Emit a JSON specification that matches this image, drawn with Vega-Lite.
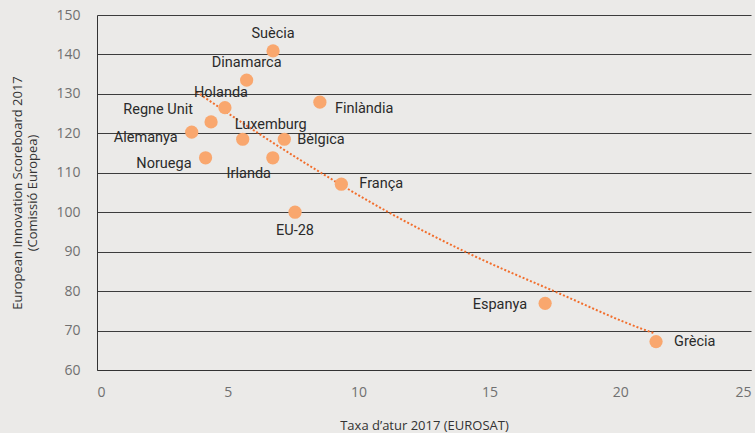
{
  "$schema": "https://vega.github.io/schema/vega-lite/v6.json",
  "width": 654,
  "height": 355,
  "autosize": {"type": "none"},
  "padding": {"left": 97, "top": 15, "right": 4, "bottom": 63},
  "background": "#EBEAE8",
  "config": {
    "view": {"stroke": null},
    "axis": {
      "labelFont": "Open Sans",
      "titleFont": "Open Sans",
      "labelFontSize": 14,
      "labelColor": "#707070",
      "titleFontSize": 13,
      "titleFontWeight": "normal",
      "titleColor": "#333333",
      "domainColor": "#333333",
      "domainWidth": 1,
      "ticks": false,
      "tickSize": 0
    },
    "text": {"font": "Roboto", "fontSize": 14.5, "fontWeight": "normal", "color": "#2a2a2a", "baseline": "middle"}
  },
  "datasets": {
    "paisos": [
      {"pais": "Suècia", "x": 6.73, "y": 140.9},
      {"pais": "Dinamarca", "x": 5.72, "y": 133.5},
      {"pais": "Holanda", "x": 4.89, "y": 126.5},
      {"pais": "Regne Unit", "x": 4.36, "y": 122.9},
      {"pais": "Alemanya", "x": 3.62, "y": 120.3},
      {"pais": "Luxemburg", "x": 5.57, "y": 118.5},
      {"pais": "Bèlgica", "x": 7.16, "y": 118.5},
      {"pais": "Noruega", "x": 4.15, "y": 113.8},
      {"pais": "Irlanda", "x": 6.72, "y": 113.8},
      {"pais": "Finlàndia", "x": 8.52, "y": 127.9},
      {"pais": "França", "x": 9.34, "y": 107.1},
      {"pais": "EU-28", "x": 7.57, "y": 100.0},
      {"pais": "Espanya", "x": 17.13, "y": 76.9},
      {"pais": "Grècia", "x": 21.37, "y": 67.2}
    ],
    "tendencia": [
      {"x": 3.8, "y": 130.5},
      {"x": 6.17, "y": 120.0},
      {"x": 8.91, "y": 108.6},
      {"x": 11.14, "y": 100.0},
      {"x": 14.07, "y": 90.0},
      {"x": 17.57, "y": 79.7},
      {"x": 21.01, "y": 70.0},
      {"x": 21.27, "y": 69.4}
    ]
  },
  "data": {"name": "paisos"},
  "encoding": {
    "x": {
      "field": "x",
      "type": "quantitative",
      "scale": {"domain": [0, 25], "nice": false},
      "axis": {
        "values": [0, 5, 10, 15, 20, 25],
        "grid": false,
        "labelPadding": 15,
        "title": "Taxa d’atur 2017 (EUROSAT)",
        "titlePadding": 20
      }
    },
    "y": {
      "field": "y",
      "type": "quantitative",
      "scale": {"domain": [60, 150], "nice": false, "zero": false},
      "axis": {
        "values": [60, 70, 80, 90, 100, 110, 120, 130, 140, 150],
        "grid": true,
        "gridColor": "#3c3c3c",
        "gridWidth": 1,
        "labelPadding": 17,
        "title": ["European Innovation Scoreboard 2017", "(Comissió Europea)"],
        "titlePadding": 16
      }
    }
  },
  "layer": [
    {
      "data": {"name": "tendencia"},
      "mark": {"type": "line", "color": "#F26E2C", "strokeDash": [2, 2], "strokeWidth": 2, "interpolate": "monotone"}
    },
    {
      "mark": {"type": "circle", "size": 175, "color": "#F9A76E", "opacity": 1}
    },
    {
      "transform": [{"filter": {"field": "pais", "oneOf": ["Suècia", "Dinamarca"]}}],
      "mark": {"type": "text", "align": "center", "dy": -17},
      "encoding": {"text": {"field": "pais"}}
    },
    {
      "transform": [{"filter": {"field": "pais", "oneOf": ["Holanda"]}}],
      "mark": {"type": "text", "align": "center", "dx": -4, "dy": -15},
      "encoding": {"text": {"field": "pais"}}
    },
    {
      "transform": [{"filter": {"field": "pais", "oneOf": ["Bèlgica"]}}],
      "mark": {"type": "text", "align": "left", "dx": 13, "dy": 1},
      "encoding": {"text": {"field": "pais"}}
    },
    {
      "transform": [{"filter": {"field": "pais", "oneOf": ["França", "Grècia"]}}],
      "mark": {"type": "text", "align": "left", "dx": 18, "dy": 0},
      "encoding": {"text": {"field": "pais"}}
    },
    {
      "transform": [{"filter": {"field": "pais", "oneOf": ["Finlàndia"]}}],
      "mark": {"type": "text", "align": "left", "dx": 15, "dy": 7},
      "encoding": {"text": {"field": "pais"}}
    },
    {
      "transform": [{"filter": {"field": "pais", "oneOf": ["Alemanya", "Noruega"]}}],
      "mark": {"type": "text", "align": "right", "dx": -14, "dy": 6},
      "encoding": {"text": {"field": "pais"}}
    },
    {
      "transform": [{"filter": {"field": "pais", "oneOf": ["Espanya"]}}],
      "mark": {"type": "text", "align": "right", "dx": -18, "dy": 2},
      "encoding": {"text": {"field": "pais"}}
    },
    {
      "transform": [{"filter": {"field": "pais", "oneOf": ["Regne Unit"]}}],
      "mark": {"type": "text", "align": "right", "dx": -18, "dy": -12},
      "encoding": {"text": {"field": "pais"}}
    },
    {
      "transform": [{"filter": {"field": "pais", "oneOf": ["Luxemburg"]}}],
      "mark": {"type": "text", "align": "left", "dx": -8, "dy": -14},
      "encoding": {"text": {"field": "pais"}}
    },
    {
      "transform": [{"filter": {"field": "pais", "oneOf": ["Irlanda"]}}],
      "mark": {"type": "text", "align": "center", "dx": -24, "dy": 16},
      "encoding": {"text": {"field": "pais"}}
    },
    {
      "transform": [{"filter": {"field": "pais", "oneOf": ["EU-28"]}}],
      "mark": {"type": "text", "align": "center", "dx": 0, "dy": 19},
      "encoding": {"text": {"field": "pais"}}
    }
  ]
}
